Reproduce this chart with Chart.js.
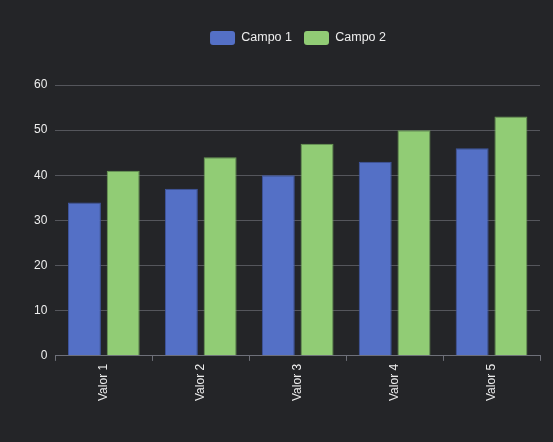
<!DOCTYPE html>
<html>
<head>
    <title>Campo 1 / Campo 2</title>
    <script src="https://cdn.jsdelivr.net/npm/chart.js"></script>
    <style>
        html, body { margin: 0; padding: 0; background: #242528; }
        #wrap { width: 553px; height: 442px; }
    </style>
</head>
<body>
    <div id="wrap"><canvas id="barChart"></canvas></div>

    <script>
        // Chart data
        var categories = ["Valor 1", "Valor 2", "Valor 3", "Valor 4", "Valor 5"];
        var campo1 = [34, 37, 40, 43, 46];
        var campo2 = [41, 44, 47, 50, 53];
        var seriesNames = ["Campo 1", "Campo 2"];

        var textColor = "#eeeeee";
        var fontFamily = "'Liberation Sans', Arial, sans-serif";

        // push the plot down below the legend and nudge the legend right
        var legendTweak = {
            id: "legendTweak",
            beforeInit: function (chart) {
                var legend = chart.legend;
                var fit = legend.fit;
                legend.fit = function () {
                    fit.bind(legend)();
                    this.height += 30;
                };
                var draw = legend.draw;
                legend.draw = function (area) {
                    var ctx = chart.ctx;
                    ctx.save();
                    ctx.translate(15, 0);
                    draw.call(legend, area);
                    ctx.restore();
                };
            }
        };

        var canvas = document.getElementById("barChart");

        var chart = new Chart(canvas, {
            type: "bar",
            data: {
                labels: categories,
                datasets: [
                    {
                        label: seriesNames[0],
                        data: campo1,
                        backgroundColor: "#5470c6",
                        borderColor: "#3f56a0",
                        borderWidth: 1
                    },
                    {
                        label: seriesNames[1],
                        data: campo2,
                        backgroundColor: "#91cc75",
                        borderColor: "#6a9a55",
                        borderWidth: 1
                    }
                ]
            },
            plugins: [legendTweak],
            options: {
                responsive: true,
                maintainAspectRatio: false,
                animation: false,
                datasets: {
                    bar: { categoryPercentage: 0.8, barPercentage: 0.85 }
                },
                layout: {
                    padding: { top: 19, left: 26, right: 13, bottom: 38 }
                },
                plugins: {
                    tooltip: { enabled: false },
                    legend: {
                        position: "top",
                        labels: {
                            color: textColor,
                            boxWidth: 25,
                            boxHeight: 14,
                            padding: 12,
                            useBorderRadius: true,
                            borderRadius: 3,
                            font: { family: fontFamily, size: 12.5 },
                            generateLabels: function (chart) {
                                return chart.data.datasets.map(function (ds, i) {
                                    return {
                                        text: ds.label,
                                        fillStyle: ds.backgroundColor,
                                        strokeStyle: ds.backgroundColor,
                                        lineWidth: 0,
                                        borderRadius: 3,
                                        fontColor: textColor,
                                        hidden: false,
                                        datasetIndex: i
                                    };
                                });
                            }
                        }
                    }
                },
                scales: {
                    x: {
                        offset: true,
                        grid: {
                            offset: true,
                            drawOnChartArea: false,
                            color: "#6e7079",
                            tickLength: 5
                        },
                        border: { color: "#6e7079" },
                        ticks: {
                            color: textColor,
                            minRotation: 90,
                            maxRotation: 90,
                            padding: 3,
                            font: { family: fontFamily, size: 12 }
                        }
                    },
                    y: {
                        min: 0,
                        max: 60,
                        grid: {
                            color: "#55565c",
                            drawTicks: false
                        },
                        border: { display: false },
                        ticks: {
                            stepSize: 10,
                            color: textColor,
                            padding: 8,
                            font: { family: fontFamily, size: 12 }
                        }
                    }
                }
            }
        });
    </script>
</body>
</html>
